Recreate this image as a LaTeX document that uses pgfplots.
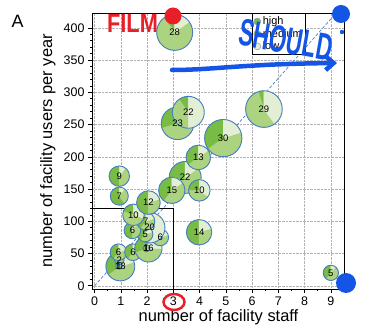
\documentclass[border=0pt]{standalone}
\usepackage{pgfplots}
\pgfplotsset{compat=1.18}
\usepackage{pgfplotstable}
\usepackage{graphicx}
\usepackage{fontspec}
\setmainfont{Liberation Sans}
\usetikzlibrary{arrows.meta}
\definecolor{cHigh}{RGB}{120,188,70}
\definecolor{cMed}{RGB}{172,211,128}
\definecolor{cLow}{RGB}{226,239,212}
\definecolor{cEdge}{RGB}{70,125,195}
\definecolor{sBlue}{RGB}{20,85,230}
\definecolor{sRed}{RGB}{232,30,40}
\pgfdeclareplotmark{nothing}{}
\pgfplotstableread{
x y n h m
0.98 30 18 0.35 0.45
0.93 31 1 0.50 0.50
0.94 40 2 0.50 0.50
0.91 52 6 0.40 0.40
1.46 52 6 0.40 0.40
2.05 58 16 0.30 0.45
1.98 58 1 0.50 0.50
2.50 75 6 0.40 0.40
2.10 90 20 0.20 0.30
1.93 80 5 0.40 0.40
1.44 86 6 0.50 0.40
1.95 100 7 0.40 0.40
1.48 110 10 0.20 0.50
2.05 129 12 0.50 0.30
0.94 139 7 0.60 0.30
0.94 170 9 0.50 0.40
3.98 83 14 0.50 0.30
9.00 20 5 0.40 0.50
3.45 168 22 0.35 0.50
2.94 148 15 0.40 0.45
3.99 148 10 0.25 0.40
3.95 199 13 0.35 0.50
4.90 229 30 0.35 0.45
3.16 252 23 0.30 0.60
3.57 269 22 0.10 0.40
6.45 274 29 0.05 0.55
3.05 393 28 0.10 0.75
}\bubbles
\begin{document}
\begin{tikzpicture}
\begin{axis}[
  at={(0,0)}, anchor=south west,
  scale only axis, width=252bp, height=276bp,
  xmin=-0.1, xmax=9.5, ymin=-5, ymax=423,
  xtick={0,1,...,9}, ytick={0,50,...,400},
  minor x tick num=1, minor y tick num=4,
  tick pos=left, tick align=outside,
  major tick length=4bp, minor tick length=2bp,
  grid=major, major grid style={densely dotted, gray!60},
  axis line style={black, line width=0.8bp},
  every tick/.style={black, line width=0.6bp},
  tick label style={font=\fontsize{12.5}{13}\selectfont},
  /pgf/number format/assume math mode=true,
  xlabel={number of facility staff},
  ylabel={number of facility users per year},
  label style={font=\fontsize{16.5}{17}\selectfont},
  xlabel style={at={(axis description cs:0.502,-0.101)}, anchor=center},
  ylabel style={at={(axis description cs:-0.175,0.5)}, anchor=center},
  legend style={at={(0.635,1)}, anchor=north west, draw=black, line width=0.6bp,
    font=\fontsize{11}{11}\selectfont, inner sep=1.5bp, row sep=-1bp, fill=white},
  legend cell align=left,
]
\addplot[black, line width=0.8bp, forget plot] coordinates {(-0.1,120) (3,120) (3,-5)};
\addplot[scatter, only marks, mark=nothing, forget plot,
  visualization depends on={\thisrow{n} \as \nn},
  visualization depends on={\thisrow{h} \as \hh},
  visualization depends on={\thisrow{m} \as \mm},
  scatter/@pre marker code/.code={%
    \pgfmathsetmacro\rr{3.4*sqrt(\nn)}%
    \pgfmathsetmacro\ah{90+360*\hh}%
    \pgfmathsetmacro\am{\ah+360*\mm}%
    \begin{scope}
    \fill[cHigh] (0pt,0pt) -- (90:\rr bp) arc[start angle=90, end angle=\ah, radius=\rr bp] -- cycle;
    \fill[cMed] (0pt,0pt) -- (\ah:\rr bp) arc[start angle=\ah, end angle=\am, radius=\rr bp] -- cycle;
    \fill[cLow] (0pt,0pt) -- (\am:\rr bp) arc[start angle=\am, end angle=450, radius=\rr bp] -- cycle;
    \draw[cEdge, line width=0.9bp] (0pt,0pt) circle[radius=\rr bp];
    \end{scope}
  },
  scatter/@post marker code/.code={},
] table[x=x, y=y] {\bubbles};
\addplot[cEdge, densely dashed, line width=0.7bp, forget plot] coordinates {(0,0) (9.2,423)};
\addplot[scatter, only marks, mark=nothing, forget plot,
  visualization depends on={\thisrow{n} \as \nn},
  scatter/@pre marker code/.code={%
    \node[black, font=\fontsize{9.5}{10}\selectfont, inner sep=0pt] at (0pt,0pt) {\pgfmathprintnumber[fixed, precision=0]{\nn}};
  },
  scatter/@post marker code/.code={},
] table[x=x, y=y] {\bubbles};
\addlegendimage{only marks, mark=*, mark size=3.5bp, mark options={fill=cHigh, draw=gray!70}}
\addlegendentry{high}
\addlegendimage{only marks, mark=*, mark size=3.5bp, mark options={fill=cMed, draw=gray!70}}
\addlegendentry{medium}
\addlegendimage{only marks, mark=*, mark size=3.5bp, mark options={fill=cLow, draw=gray!70}}
\addlegendentry{low}
\end{axis}
% panel letter
\node[font=\fontsize{18}{18}\selectfont] at (-74.5bp,267.5bp) {A};
% hand-drawn annotations
\fill[sRed] (81bp,273bp) circle[radius=8.5bp];
\node[sRed, font=\bfseries\fontsize{23}{23}\selectfont] at (40.5bp,266bp) {\scalebox{0.95}[1.15]{FILM}};
\node[sBlue, font=\bfseries\fontsize{22.5}{23}\selectfont, rotate=-10] at (194bp,249bp) {\scalebox{1}[1.7]{SHOULD}};
\fill[sBlue] (249bp,275bp) circle[radius=9bp];
\fill[sBlue] (250bp,257bp) circle[radius=2.2bp];
\draw[sBlue, line width=4.5bp, line cap=round, -{Straight Barb[length=8bp, width=14bp]}]
  (80bp,219bp) .. controls (120bp,219bp) and (150bp,225bp) .. (245bp,226bp);
\fill[sBlue] (254bp,6bp) circle[radius=10bp];
\draw[sRed, line width=2.5bp] (82bp,-13bp) ellipse[x radius=10.5bp, y radius=8bp];
\pgfresetboundingbox
\path (-92bp,-41bp) rectangle (273bp,289bp);
\end{tikzpicture}
\end{document}
